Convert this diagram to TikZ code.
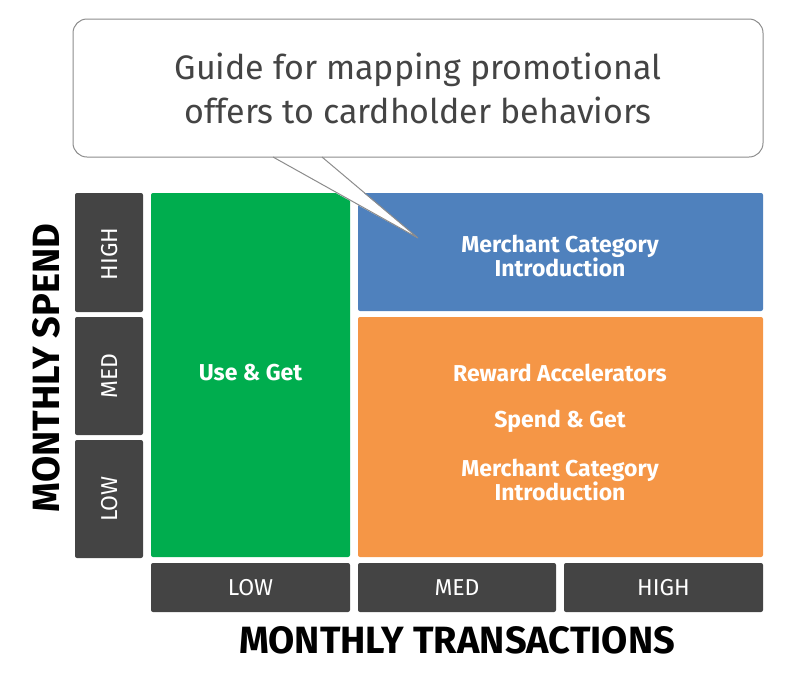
\documentclass[tikz,border=0pt]{standalone}
\usepackage{fontspec}
\setmainfont{Fira Sans}
\definecolor{darkbox}{HTML}{444444}
\definecolor{greenbox}{HTML}{00AD4E}
\definecolor{bluebox}{HTML}{4F81BD}
\definecolor{orangebox}{HTML}{F59646}
\definecolor{calltext}{HTML}{444444}
\definecolor{callline}{HTML}{8C8C8C}
\begin{document}
\begin{tikzpicture}[x=1pt,y=-1pt,
  cell/.style={rounded corners=2pt, draw=none},
  lab/.style={text=white, font=\fontsize{23}{26}\selectfont, inner sep=0pt},
  big/.style={text=black, font=\fontsize{38}{40}\selectfont\bfseries, inner sep=0pt},
  inner/.style={text=white, font=\fontsize{23}{24}\selectfont\bfseries, align=center, inner sep=0pt}]
\useasboundingbox (0,0) rectangle (787,673);
% callout
\draw[callline, line width=1pt, fill=white, rounded corners=14pt] (73,19) rectangle (763,157);
\coordinate (tipA) at (273,157);
\coordinate (tipB) at (322,157);
\coordinate (tip) at (418,238);
% left labels
\fill[darkbox, cell] (75,193) rectangle (143,312);
\fill[darkbox, cell] (75,317) rectangle (143,435);
\fill[darkbox, cell] (75,440) rectangle (143,558);
\node[lab, rotate=90] (sh) at (110,254) {HIGH};
\node[lab, rotate=90] (sm) at (110,376) {MED};
\node[lab, rotate=90] (sl) at (110,499) {LOW};
% bottom labels
\fill[darkbox, cell] (151,563) rectangle (350,612);
\fill[darkbox, cell] (358,563) rectangle (556,612);
\fill[darkbox, cell] (564,563) rectangle (763,612);
\node[lab] (tl) at (250.5,588) {LOW};
\node[lab] (tm) at (457,588) {MED};
\node[lab] (th) at (663.5,588) {HIGH};
% main cells
\fill[greenbox, cell] (151,193) rectangle (350,557);
\fill[bluebox, cell] (358,193) rectangle (763,311);
\fill[orangebox, cell] (358,317) rectangle (763,557);
\node[inner] (use) at (250.5,373) {Use \& Get};
\node[inner] (merch1) at (560,256) {Merchant Category\\Introduction};
\node[inner] (rew) at (560,373) {Reward Accelerators};
\node[inner] (spend) at (560,421) {Spend \& Get};
\node[inner] (merch2) at (560,480) {Merchant Category\\Introduction};
% callout tail over cells
\fill[white] ([yshift=-1.5pt]tipA) -- (tip) -- ([yshift=-1.5pt]tipB) -- cycle;
\draw[callline, line width=1pt] (tipA) -- (tip) -- (tipB);
\node[text=calltext, font=\fontsize{34}{44}\selectfont, align=center, inner sep=0pt] (title) at (418,88) {Guide for mapping promotional\\offers to cardholder behaviors};
% axis titles
\node[big, rotate=90] (ms) at (46,368) {MONTHLY SPEND};
\node[big] (mt) at (457,640) {MONTHLY TRANSACTIONS};
\end{tikzpicture}
\end{document}
